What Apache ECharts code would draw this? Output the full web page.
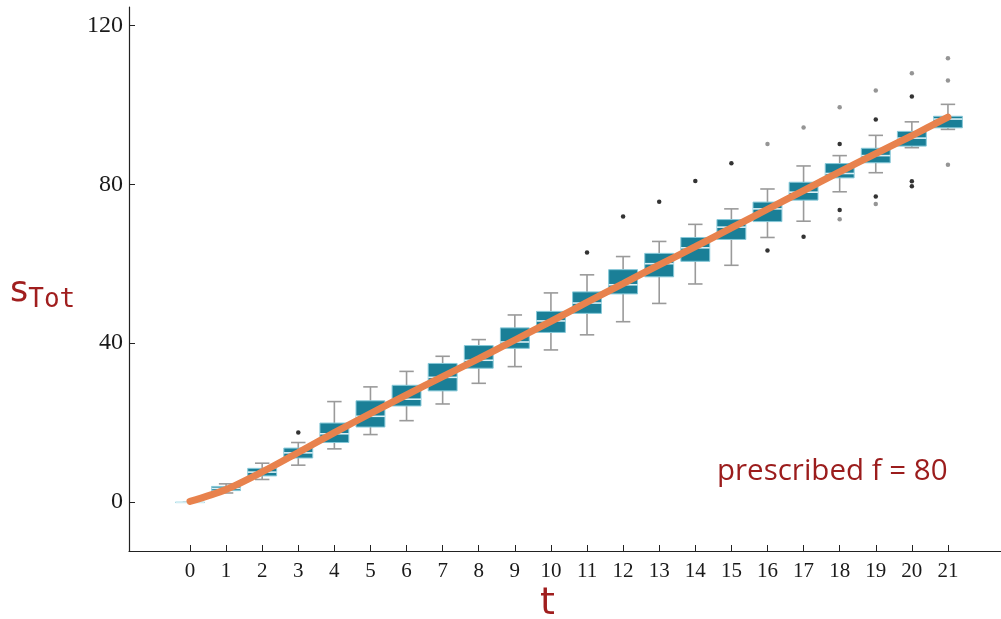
<!DOCTYPE html>
<html>
<head>
<meta charset="utf-8">
<script src="https://cdn.jsdelivr.net/npm/echarts@6/dist/echarts.min.js"></script>
<style>
html,body{margin:0;padding:0;background:#fff;}
#chart{width:1001px;height:619px;}
</style>
</head>
<body>
<div id="chart"></div>
<script>
// time steps
var tValues = [0,1,2,3,4,5,6,7,8,9,10,11,12,13,14,15,16,17,18,19,20,21];
// box statistics per t: [min whisker, q1, median, q3, max whisker]
var whiskerLow  = [0, 2.3, 5.7, 9.3, 13.4, 17.0, 20.5, 24.7, 29.9, 34.1, 38.3, 42.1, 45.4, 50.0, 54.9, 59.6, 66.6, 70.7, 78.1, 82.9, 89.2, 93.8];
var quart1      = [0, 2.9, 6.6, 11.1, 15.0, 18.9, 24.2, 28.0, 33.7, 38.7, 42.7, 47.5, 52.4, 56.7, 60.6, 66.1, 70.6, 76.0, 81.6, 85.4, 89.6, 94.2];
var medians     = [0, 3.45, 7.55, 12.4, 17.2, 21.6, 25.9, 31.4, 35.7, 40.3, 45.6, 50.1, 54.7, 60.0, 64.0, 69.2, 73.8, 78.0, 82.7, 87.2, 91.6, 96.4];
var quart3      = [0, 3.95, 8.5, 13.6, 19.9, 25.5, 29.4, 34.9, 39.4, 43.85, 48.0, 52.9, 58.5, 62.6, 66.6, 71.1, 75.5, 80.5, 85.2, 89.05, 93.3, 97.1];
var whiskerHigh = [0, 4.6, 9.8, 15.0, 25.3, 29.0, 32.9, 36.7, 40.9, 47.1, 52.65, 57.2, 61.8, 65.6, 69.9, 73.8, 78.8, 84.6, 87.2, 92.3, 95.7, 100.1];
// outliers [t, value]
var outliersBlack = [[3,17.5],[11,62.8],[12,71.9],[13,75.6],[14,80.8],[15,85.3],[16,63.3],[17,66.8],[18,90.1],[18,73.5],[19,96.3],[19,76.9],[20,102.1],[20,80.75],[20,79.5]];
var outliersGray  = [[16,90.1],[17,94.3],[18,99.4],[18,71.2],[19,103.6],[19,75.0],[20,107.9],[21,111.7],[21,106.1],[21,84.9]];
// mean trajectory
var meanLine = [0.2, 3.2, 7.6, 12.5, 17.5, 22.3, 27.0, 31.6, 36.1, 40.8, 45.5, 50.3, 55.0, 59.7, 64.3, 69.0, 73.7, 78.4, 83.1, 87.7, 92.2, 96.9];
// tick labels
var yTicks = [0, 40, 80, 120];
var xTicks = tValues;

var boxData = tValues.map(function(t, i){
  return [t, whiskerLow[i], quart1[i], medians[i], quart3[i], whiskerHigh[i]];
});
var lineData = tValues.map(function(t, i){ return [t, meanLine[i]]; });

var chart = echarts.init(document.getElementById('chart'), null, {renderer:'canvas'});

function renderBox(params, api){
  var t = api.value(0);
  var lo = api.coord([t, api.value(1)]);
  var q1 = api.coord([t, api.value(2)]);
  var md = api.coord([t, api.value(3)]);
  var q3 = api.coord([t, api.value(4)]);
  var hi = api.coord([t, api.value(5)]);
  var bw = api.size([0.8, 0])[0];
  var cw = api.size([0.4, 0])[0];
  var x = lo[0];
  var wStyle = {stroke:'#9a9a9a', lineWidth:1.6, fill:null};
  return {
    type:'group',
    children:[
      {type:'line', shape:{x1:x,y1:lo[1],x2:x,y2:q1[1]}, style:wStyle},
      {type:'line', shape:{x1:x,y1:q3[1],x2:x,y2:hi[1]}, style:wStyle},
      {type:'line', shape:{x1:x-cw/2,y1:lo[1],x2:x+cw/2,y2:lo[1]}, style:wStyle},
      {type:'line', shape:{x1:x-cw/2,y1:hi[1],x2:x+cw/2,y2:hi[1]}, style:wStyle},
      {type:'rect', shape:{x:x-bw/2, y:q3[1], width:bw, height:Math.max(q1[1]-q3[1],0.5)},
        style:{fill:'#1a7f97', stroke:'#86c8d8', lineWidth:1}},
      {type:'line', shape:{x1:x-bw/2,y1:md[1],x2:x+bw/2,y2:md[1]}, style:{stroke:'#d8f0f6', lineWidth:1.6}}
    ]
  };
}

var option = {
  animation:false,
  backgroundColor:'#fff',
  grid:{left:129, top:7, right:0, bottom:68, containLabel:false},
  xAxis:{
    type:'value', min:-1.69, max:22.47,
    axisLine:{show:true, onZero:false, lineStyle:{color:'#222', width:1.2}},
    axisTick:{show:true, inside:true, length:6, customValues:xTicks, lineStyle:{color:'#222'}},
    axisLabel:{show:true, customValues:xTicks, margin:10, fontFamily:'Liberation Serif', fontSize:21, color:'#1a1a1a'},
    splitLine:{show:false}
  },
  yAxis:{
    type:'value', min:-12.3, max:124.6,
    axisLine:{show:true, onZero:false, lineStyle:{color:'#222', width:1.2}},
    axisTick:{show:true, inside:true, length:6, customValues:yTicks, lineStyle:{color:'#222'}},
    axisLabel:{show:true, customValues:yTicks, margin:6, fontFamily:'Liberation Serif', fontSize:24, color:'#1a1a1a'},
    splitLine:{show:false}
  },
  graphic:[
    {type:'text', left:10, top:274, style:{
      text:'{s|s}{sub|Tot}',
      rich:{
        s:{fontFamily:'DejaVu Sans', fontSize:35, fill:'#a01e1e', color:'#a01e1e'},
        sub:{fontFamily:'DejaVu Sans Mono', fontSize:26, fill:'#a01e1e', color:'#a01e1e', padding:[18,0,0,0]}
      }
    }},
    {type:'text', left:540, top:585, style:{text:'t', fontFamily:'DejaVu Sans', fontSize:38, fill:'#a01e1e'}},
    {type:'text', left:717, top:457, style:{text:'prescribed f = 80', fontFamily:'Open Sans', fontSize:29.5, fill:'#9b1c1c'}}
  ],
  series:[
    {type:'custom', renderItem:renderBox, data:boxData, encode:{x:0, y:[1,2,3,4,5]}, z:2},
    {type:'line', data:lineData, smooth:0.3, symbol:'none', lineStyle:{color:'#e8824d', width:7, cap:'round'}, z:3},
    {type:'scatter', data:outliersBlack, symbol:'circle', symbolSize:4.5, itemStyle:{color:'#000'}, z:4},
    {type:'scatter', data:outliersGray, symbol:'circle', symbolSize:4.5, itemStyle:{color:'#7a7a7a'}, z:4}
  ]
};
chart.setOption(option);
</script>
</body>
</html>
